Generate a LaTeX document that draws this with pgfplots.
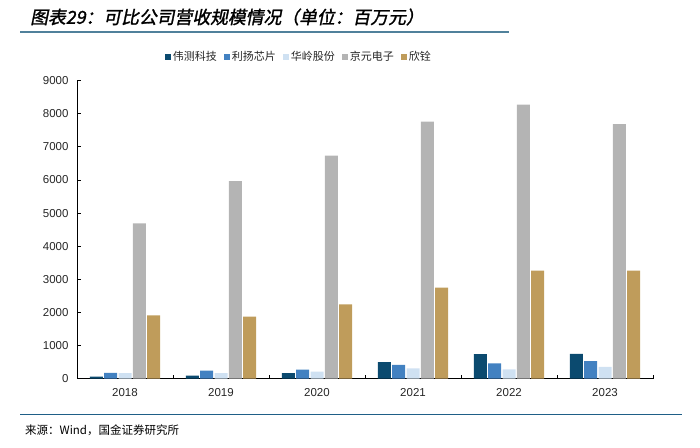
\documentclass[border=0pt]{standalone}
\usepackage{fontspec}
\setmainfont{Liberation Sans}
\newfontfamily\cjk{Noto Sans CJK SC}
\newfontfamily\cjktitle[FakeSlant=0.2,FakeBold=1.5]{Noto Sans CJK SC}
\usepackage{pgfplots}
\pgfplotsset{compat=1.18}

\definecolor{cWeice}{HTML}{0B4A6F}
\definecolor{cLiyang}{HTML}{4281C1}
\definecolor{cHualing}{HTML}{CFE1F2}
\definecolor{cJingyuan}{HTML}{B4B4B4}
\definecolor{cXinquan}{HTML}{BF9C5B}
\definecolor{titleline}{HTML}{50819B}
\definecolor{footline}{HTML}{1F5F87}

\begin{document}
\begin{tikzpicture}[x=1pt,y=1pt]
\useasboundingbox (0,0) rectangle (700,447);

% title, rules and source
\node[anchor=west, inner sep=0pt] at (30,430) {\cjktitle\fontsize{17.8}{19}\selectfont 图表29：可比公司营收规模情况（单位：百万元）};
\draw[titleline, line width=2pt] (20,414.5) -- (509,414.5);
\draw[footline, line width=1pt] (20,32.3) -- (682,32.3);
\node[anchor=west, inner sep=0pt] at (25,17) {\cjk\fontsize{11.5}{13}\selectfont 来源：Wind，国金证券研究所};

\begin{axis}[
  at={(77pt,68.5pt)}, anchor=south west,
  scale only axis,
  width=576pt, height=297.8pt,
  ybar=1.3pt, bar width=13pt,
  ymin=0, ymax=9000,
  ytick={0,1000,...,9000},
  xmin=-0.5, xmax=5.5,
  xtick={-0.5,0.5,...,5.5},
  x tick label as interval,
  xticklabels={2018,2019,2020,2021,2022,2023},
  axis lines*=left,
  axis line style={black, line width=1pt},
  tick align=inside,
  major tick length=4pt,
  tick style={black, line width=0.8pt},
  /pgf/number format/assume math mode=true,
  /pgf/number format/1000 sep={},
  tick label style={font=\fontsize{11.5}{13}\selectfont, text=black!85},
  yticklabel style={xshift=-5pt},
  xticklabel style={yshift=-6pt},
  legend columns=5,
  legend style={at={(0.385,1.0796)}, anchor=center, draw=none,
    font=\cjk\fontsize{11}{13}\selectfont, text=black!85,
    /tikz/every even column/.append style={column sep=5pt}},
  legend image code/.code={\fill[#1] (0pt,-3pt) rectangle (6pt,3pt);},
]
\addplot[fill=cWeice, draw=none] coordinates {(0,60) (1,90) (2,165) (3,495) (4,740) (5,745)};
\addplot[fill=cLiyang, draw=none] coordinates {(0,170) (1,235) (2,265) (3,415) (4,460) (5,525)};
\addplot[fill=cHualing, draw=none] coordinates {(0,165) (1,160) (2,205) (3,305) (4,275) (5,350)};
\addplot[fill=cJingyuan, draw=none] coordinates {(0,4690) (1,5965) (2,6735) (3,7760) (4,8275) (5,7690)};
\addplot[fill=cXinquan, draw=none] coordinates {(0,1910) (1,1868) (2,2242) (3,2744) (4,3258) (5,3258)};
\legend{伟测科技,利扬芯片,华岭股份,京元电子,欣铨}
\end{axis}
\end{tikzpicture}
\end{document}
